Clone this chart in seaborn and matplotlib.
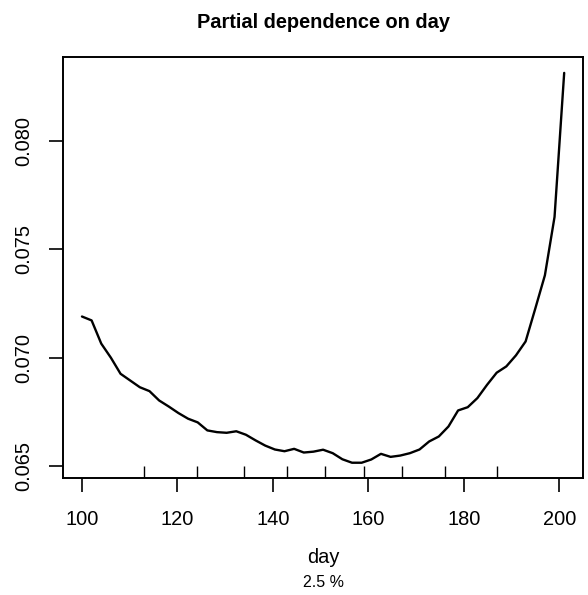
import numpy as np
import pandas as pd
import seaborn as sns
import matplotlib.pyplot as plt

# grid of day values used for the partial dependence (51 points)
day = [100.00, 102.02, 104.04, 106.06, 108.08, 110.10, 112.12, 114.14, 116.16, 118.18,
       120.20, 122.22, 124.24, 126.26, 128.28, 130.30, 132.32, 134.34, 136.36, 138.38,
       140.40, 142.42, 144.44, 146.46, 148.48, 150.50, 152.52, 154.54, 156.56, 158.58,
       160.60, 162.62, 164.64, 166.66, 168.68, 170.70, 172.72, 174.74, 176.76, 178.78,
       180.80, 182.82, 184.84, 186.86, 188.88, 190.90, 192.92, 194.94, 196.96, 198.98,
       201.00]

# partial dependence values
pdep = [0.07190, 0.07172, 0.07065, 0.07000, 0.06926, 0.06895, 0.06864, 0.06846, 0.06803, 0.06775,
        0.06745, 0.06719, 0.06702, 0.06665, 0.06657, 0.06654, 0.06661, 0.06645, 0.06619, 0.06595,
        0.06577, 0.06569, 0.06580, 0.06563, 0.06567, 0.06576, 0.06560, 0.06532, 0.06516, 0.06516,
        0.06531, 0.06557, 0.06543, 0.06549, 0.06560, 0.06577, 0.06614, 0.06637, 0.06683, 0.06757,
        0.06772, 0.06814, 0.06875, 0.06931, 0.06960, 0.07011, 0.07075, 0.07226, 0.07380, 0.07649,
        0.08313]

# deciles of day shown as rug marks
deciles = [113, 124, 134, 143, 151, 159, 167, 176, 187]

yticks = [0.065, 0.070, 0.075, 0.080]
xticks = [100, 120, 140, 160, 180, 200]

sns.set_style('ticks')
plt.rcParams['font.family'] = ['Liberation Sans', 'DejaVu Sans']
plt.rcParams['text.color'] = 'black'
plt.rcParams['axes.labelcolor'] = 'black'

df = pd.DataFrame({'day': day, 'pdep': pdep})

fig = plt.figure(figsize=(5.88, 5.95), dpi=100)
ax = fig.add_axes([0.1066, 0.1961, 0.8857, 0.7076])

sns.lineplot(data=df, x='day', y='pdep', color='black', lw=1.7, ax=ax)
sns.rugplot(x=deciles, height=0.03, color='black', lw=0.9, ax=ax)

# R style 4% padding on both axes
xr = max(day) - min(day)
yr = max(pdep) - min(pdep)
ax.set_xlim(min(day) - 0.04 * xr, max(day) + 0.04 * xr)
ax.set_ylim(min(pdep) - 0.04 * yr, max(pdep) + 0.04 * yr)

ax.set_xticks(xticks)
ax.set_xticklabels([str(v) for v in xticks])
ax.set_yticks(yticks)
ax.set_yticklabels([f'{v:.3f}' for v in yticks])
ax.tick_params(axis='both', length=10, width=1.2, color='black', labelsize=14.4, labelcolor='black')
ax.tick_params(axis='x', pad=12.5)
ax.tick_params(axis='y', pad=11.5, labelrotation=90)
plt.setp(ax.get_yticklabels(), va='center')

for sp in ax.spines.values():
    sp.set_visible(True)
    sp.set_linewidth(1.4)
    sp.set_color('black')

ax.set_xlabel('day', fontsize=14.4, labelpad=14, color='black')
ax.set_ylabel('')
ax.set_title('Partial dependence on day', fontsize=14.4, fontweight='bold', pad=21, color='black')
fig.text(0.5495, 0.021, '2.5 %', ha='center', va='center', fontsize=11.5, color='black')

fig.savefig('out.png', dpi=100)
